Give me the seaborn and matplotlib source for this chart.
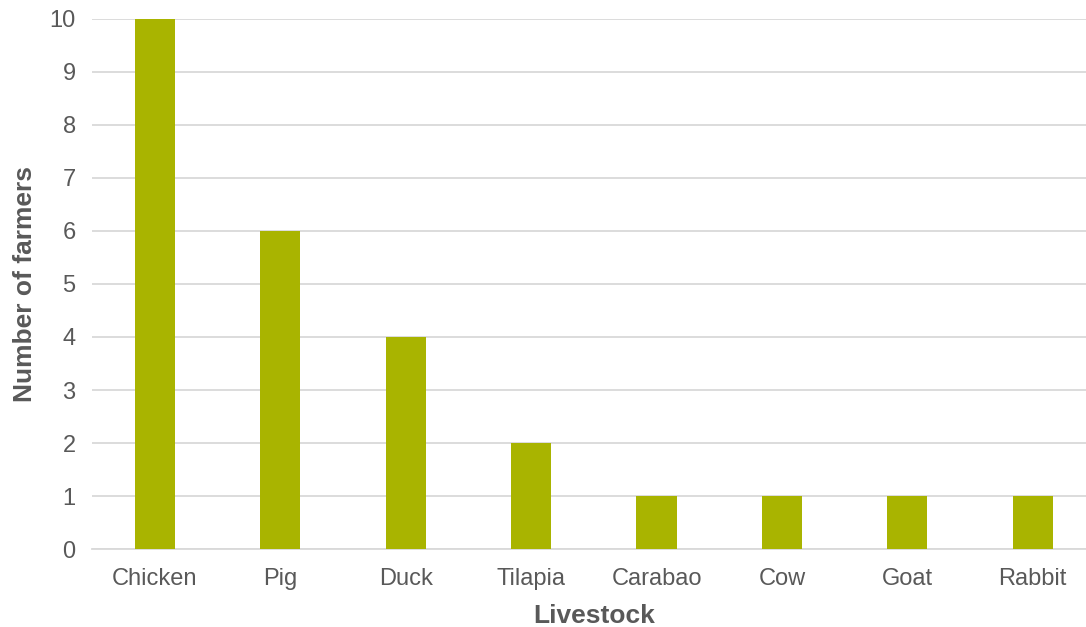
import matplotlib
matplotlib.use("Agg")
import matplotlib.pyplot as plt
import seaborn as sns
import pandas as pd

livestock = ["Chicken", "Pig", "Duck", "Tilapia", "Carabao", "Cow", "Goat", "Rabbit"]
farmers = [10, 6, 4, 2, 1, 1, 1, 1]

sns.set_theme(style="white")
plt.rcParams["font.family"] = ["Liberation Sans", "DejaVu Sans"]

text_color = "#595959"
bar_color = "#A9B400"

df = pd.DataFrame({"Livestock": livestock, "Farmers": farmers})

fig = plt.figure(figsize=(10.86, 6.27), dpi=100)
ax = fig.add_axes([0.085, 0.1244, 0.9236, 0.9697 - 0.1244])

sns.barplot(data=df, x="Livestock", y="Farmers", color=bar_color,
            width=0.32, saturation=1, linewidth=0, ax=ax, zorder=3)

ax.set_ylim(0, 10)
ax.set_yticks(range(0, 11))
ax.set_xlim(-0.5, len(livestock) - 0.5)
ax.yaxis.grid(True, color="#D9D9D9", linewidth=1.3, zorder=0)
ax.set_axisbelow(True)
for side in ["top", "right", "left"]:
    ax.spines[side].set_visible(False)
ax.spines["bottom"].set_color("#D9D9D9")
ax.spines["bottom"].set_linewidth(1.3)

ax.tick_params(axis="both", colors=text_color, labelsize=17, length=0)
ax.tick_params(axis="x", pad=14)
ax.tick_params(axis="y", pad=12)

ax.set_xlabel("Livestock", fontsize=19, fontweight="bold", color=text_color, labelpad=10)
ax.set_ylabel("Number of farmers", fontsize=19, fontweight="bold", color=text_color)
ax.yaxis.set_label_coords(-0.055, 0.5)

fig.savefig("out.png", dpi=100, facecolor="white")
